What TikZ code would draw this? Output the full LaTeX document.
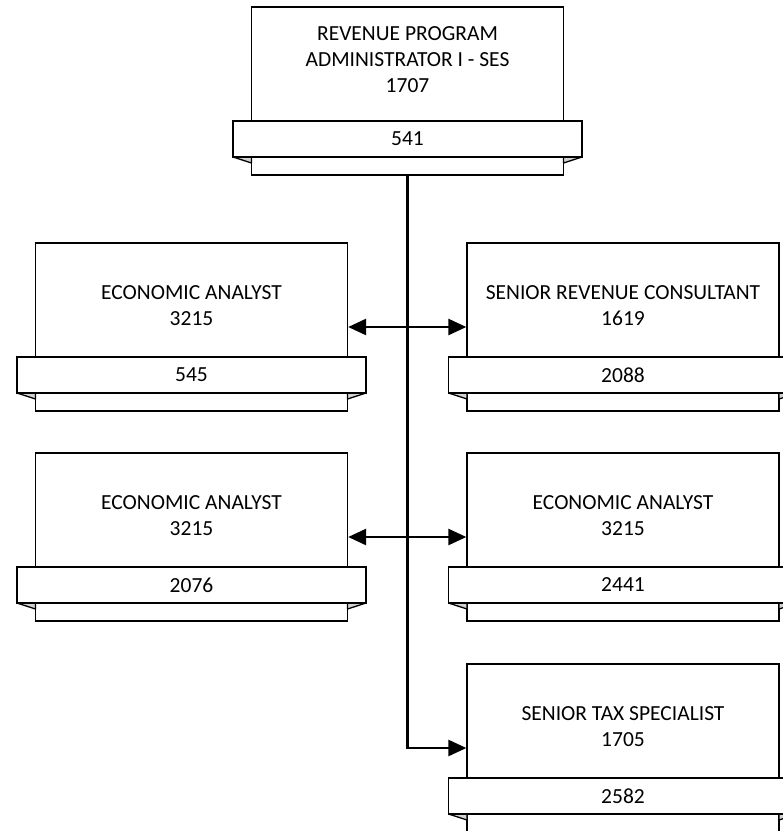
\documentclass[tikz,border=0pt]{standalone}
\usepackage{fontspec}
\setmainfont{Carlito}
\usetikzlibrary{arrows.meta}
\tikzset{
  mainbox/.style={draw, line width=1.3pt, fill=white, minimum width=312pt, minimum height=168pt, inner sep=0pt},
  bandbox/.style={draw, line width=1.3pt, fill=white, minimum width=349pt, minimum height=36pt, inner sep=0pt, font=\fontsize{21.5}{26}\selectfont},
  fold/.style={draw, line width=1.3pt, fill=gray!35, line join=round},
  boxtext/.style={align=center, font=\fontsize{21.5}{26}\selectfont, inner sep=0pt},
  conn/.style={line width=2.6pt},
  tipa/.tip={Triangle[length=18pt,width=16pt]}
}
\newcommand\orgbox[6]{%
  \node[mainbox] (#1) at (#2,#3+84) {};
  \path[fold] (#2-174.5,#3+150) -- (#2-156,#3+150) -- (#2-156,#3+156) -- cycle;
  \path[fold] (#2+174.5,#3+150) -- (#2+156,#3+150) -- (#2+156,#3+156) -- cycle;
  \node[bandbox] (#1-b) at (#2,#3+132) {#6};
  \node[boxtext] (#1-t) at (#2,#3+#4) {#5};
}
\begin{document}
\begin{tikzpicture}[x=1pt,y=-1pt]
\useasboundingbox (0,0) rectangle (783,831);
\clip (0,0) rectangle (783,831);
\orgbox{rpa}{407.5}{7}{53}{REVENUE PROGRAM\\ADMINISTRATOR I - SES\\1707}{541}
\orgbox{ea1}{191.5}{243}{62.5}{ECONOMIC ANALYST\\3215}{545}
\orgbox{src}{623}{243}{62.5}{SENIOR REVENUE CONSULTANT\\1619}{2088}
\orgbox{ea2}{191.5}{453}{62.5}{ECONOMIC ANALYST\\3215}{2076}
\orgbox{ea3}{623}{453}{62.5}{ECONOMIC ANALYST\\3215}{2441}
\orgbox{sts}{623}{664}{63}{SENIOR TAX SPECIALIST\\1705}{2582}
\draw[conn, -tipa] (rpa.south) -- (rpa.south |- sts.west) -- (sts.west);
\draw[conn, tipa-tipa] (ea1.east) -- (src.west);
\draw[conn, tipa-tipa] (ea2.east) -- (ea3.west);
\end{tikzpicture}
\end{document}
